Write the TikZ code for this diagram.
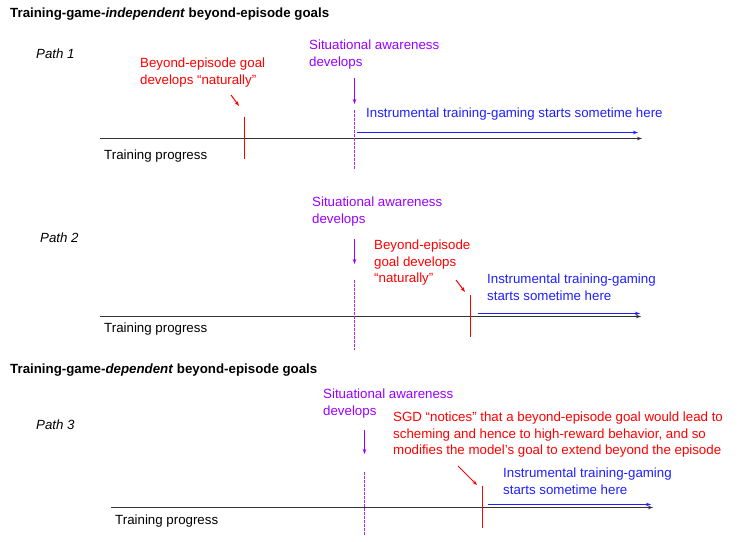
\documentclass[tikz,border=0pt]{standalone}
\usepackage{fontspec}
\setmainfont{Liberation Sans}
\usetikzlibrary{arrows.meta}
\definecolor{sared}{HTML}{FF0000}
\definecolor{sapurple}{HTML}{9900FF}
\definecolor{sablue}{HTML}{1F1FFF}
\begin{document}
\begin{tikzpicture}[x=1pt,y=-1pt,
  txt/.style={font=\fontsize{13.3}{16.4}\selectfont, inner sep=0pt, align=left},
  ttl/.style={txt, font=\fontsize{13.3}{16.4}\selectfont\bfseries, anchor=west},
  tip/.style={-{Stealth[length=5pt,width=3.5pt]}},
  axis/.style={draw=black!80,line width=1pt,tip},
  awe/.style={draw=sapurple,line width=1pt,tip},
  awedash/.style={draw=sapurple!85,line width=1pt,dash pattern=on 2.5pt off 1.5pt},
  goal/.style={draw=sared,line width=1pt,tip},
  goalline/.style={draw=sared,line width=1pt},
  gaming/.style={draw=sablue,line width=1pt,tip}]
\useasboundingbox (0,0) rectangle (744,541);
% titles
\node[ttl] (t1) at (10,14) {Training-game-\textit{independent} beyond-episode goals};
\node[ttl] (t2) at (10,370) {Training-game-\textit{dependent} beyond-episode goals};
% path 1
\node[txt,anchor=west] (p1) at (36,54) {\textit{Path 1}};
\coordinate (a1s) at (100,138.5);
\coordinate (a1e) at (642,138.5);
\path[axis] (a1s) -- (a1e);
\node[txt,anchor=west] (tp1) at (104,156) {Training progress};
\node[txt,anchor=north west,text=sapurple] (sa1) at (309,40) {Situational awareness\\develops};
\coordinate (sa1a) at (354.5,78);
\coordinate (sa1b) at (354.5,104);
\path[awe] (sa1a) -- (sa1b);
\coordinate (sa1c) at (354.5,110);
\coordinate (sa1d) at (354.5,170);
\path[awedash] (sa1c) -- (sa1d);
\node[txt,anchor=north west,text=sared] (g1) at (140,58) {Beyond-episode goal\\develops “naturally”};
\coordinate (g1a) at (231,95);
\coordinate (g1b) at (239,106);
\path[goal] (g1a) -- (g1b);
\coordinate (g1c) at (244.5,117);
\coordinate (g1d) at (244.5,159);
\path[goalline] (g1c) -- (g1d);
\coordinate (ig1a) at (357,132.5);
\coordinate (ig1b) at (638,132.5);
\path[gaming] (ig1a) -- (ig1b);
\node[txt,anchor=west,text=sablue] (ig1) at (366,114) {Instrumental training-gaming starts sometime here};
% path 2
\node[txt,anchor=west] (p2) at (40,238) {\textit{Path 2}};
\coordinate (a2s) at (100,316.5);
\coordinate (a2e) at (641,316.5);
\path[axis] (a2s) -- (a2e);
\node[txt,anchor=west] (tp2) at (104,329) {Training progress};
\node[txt,anchor=north west,text=sapurple] (sa2) at (312,197) {Situational awareness\\develops};
\coordinate (sa2a) at (354.5,239);
\coordinate (sa2b) at (354.5,264);
\path[awe] (sa2a) -- (sa2b);
\coordinate (sa2c) at (354.5,280);
\coordinate (sa2d) at (354.5,350);
\path[awedash] (sa2c) -- (sa2d);
\node[txt,anchor=north west,text=sared] (g2) at (374,240) {Beyond-episode\\goal develops\\“naturally”};
\coordinate (g2a) at (456,280);
\coordinate (g2b) at (465,292);
\path[goal] (g2a) -- (g2b);
\coordinate (g2c) at (470.5,295);
\coordinate (g2d) at (470.5,337);
\path[goalline] (g2c) -- (g2d);
\coordinate (ig2a) at (478,313.5);
\coordinate (ig2b) at (640,313.5);
\path[gaming] (ig2a) -- (ig2b);
\node[txt,anchor=north west,text=sablue] (ig2) at (487,274) {Instrumental training-gaming\\starts sometime here};
% path 3
\node[txt,anchor=west] (p3) at (36,425) {\textit{Path 3}};
\coordinate (a3s) at (111,507.5);
\coordinate (a3e) at (653,507.5);
\path[axis] (a3s) -- (a3e);
\node[txt,anchor=west] (tp3) at (115,521) {Training progress};
\node[txt,anchor=north west,text=sapurple] (sa3) at (323,389) {Situational awareness\\develops};
\coordinate (sa3a) at (364.5,430);
\coordinate (sa3b) at (364.5,454);
\path[awe] (sa3a) -- (sa3b);
\coordinate (sa3c) at (364.5,472);
\coordinate (sa3d) at (364.5,535);
\path[awedash] (sa3c) -- (sa3d);
\node[txt,anchor=north west,text=sared] (g3) at (393,412) {SGD “notices” that a beyond-episode goal would lead to\\scheming and hence to high-reward behavior, and so\\modifies the model’s goal to extend beyond the episode};
\coordinate (g3a) at (458,466);
\coordinate (g3b) at (477,485);
\path[goal] (g3a) -- (g3b);
\coordinate (g3c) at (482.5,486);
\coordinate (g3d) at (482.5,528);
\path[goalline] (g3c) -- (g3d);
\coordinate (ig3a) at (488,504.5);
\coordinate (ig3b) at (651,504.5);
\path[gaming] (ig3a) -- (ig3b);
\node[txt,anchor=north west,text=sablue] (ig3) at (503,468) {Instrumental training-gaming\\starts sometime here};
\end{tikzpicture}
\end{document}
